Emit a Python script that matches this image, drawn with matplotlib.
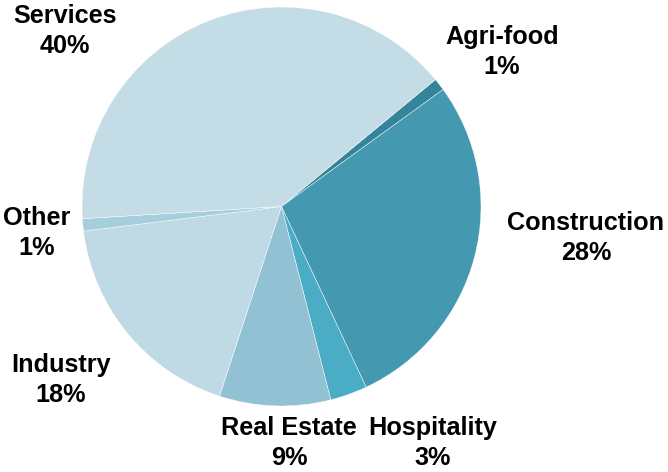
#!/usr/bin/env python

'''plot.py: pie chart of the sector breakdown'''

import matplotlib.pyplot as plt

# Data
sectors = ['Agri-food', 'Construction', 'Hospitality', 'Real Estate',
           'Industry', 'Other', 'Services']
shares = [1, 28, 3, 9, 18, 1, 40]                          # percent

colors = ['#34849a', '#4499b1', '#4bacc6', '#92c1d3',
          '#bfdae4', '#a6cedc', '#c3dce6']

# label anchor points (image pixels, from top-left)
label_xy = [(502, 52), (586, 238), (433, 443), (289, 443),
            (61, 380), (37, 233), (65, 31)]

W, H = 668, 472
fig = plt.figure(figsize=(W / 100, H / 100), dpi=100)
ax = fig.add_axes([0, 0, 1, 1])

ax.pie(shares, colors=colors, startangle=39.5, counterclock=False,
       center=(281.5, H - 206.5), radius=199.5,
       wedgeprops=dict(edgecolor='white', linewidth=0.3))

for name, val, (x, y) in zip(sectors, shares, label_xy):
    ax.text(x, H - y, '{}\n{}%'.format(name, val), ha='center', va='center',
            fontsize=18.2, fontweight='bold', family='Liberation Sans',
            linespacing=1.3, color='black')

ax.set_xlim(0, W)
ax.set_ylim(0, H)
ax.set_aspect('equal')
ax.axis('off')

fig.savefig('out.png', dpi=100)
